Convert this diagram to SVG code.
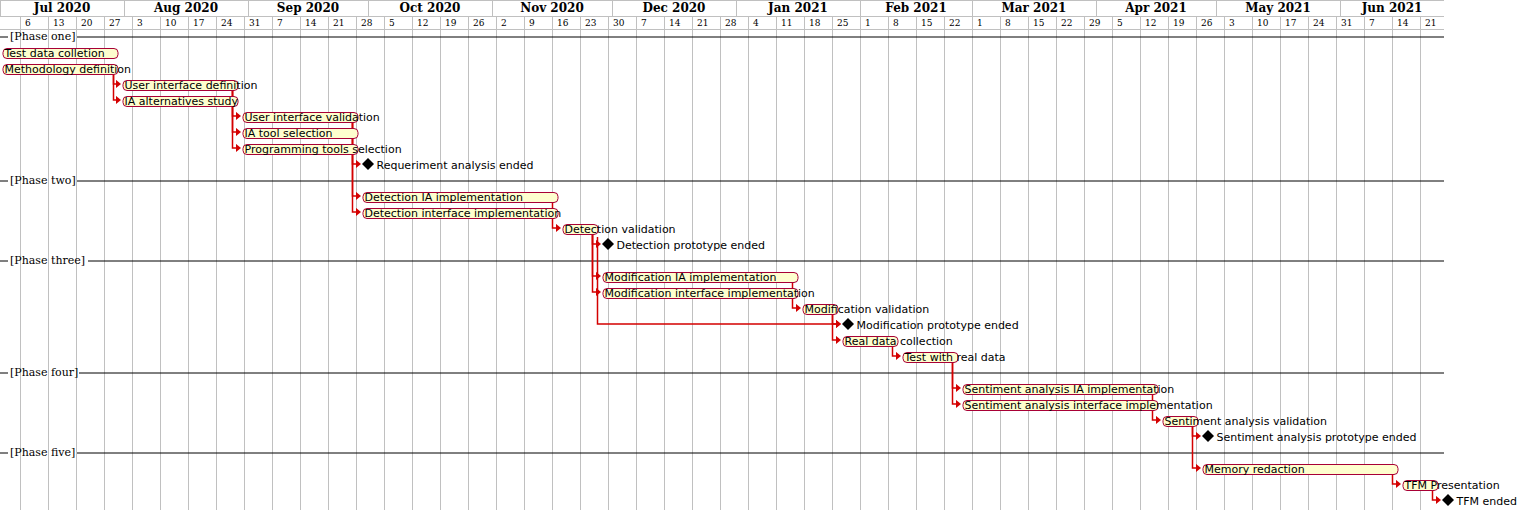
<svg xmlns="http://www.w3.org/2000/svg" width="1518" height="510" viewBox="0 0 1518 510">
<style>
.grid{stroke:#C0C0C0;stroke-width:1;fill:none}
.month{font-family:"DejaVu Serif",serif;font-weight:bold;font-size:12px;fill:#000;text-anchor:middle}
.week{font-family:"DejaVu Serif",serif;font-size:9px;fill:#000}
.pline{stroke:#000;stroke-width:1;fill:none}
.phase{font-family:"DejaVu Serif",serif;font-size:11px;fill:#000}
.bar{fill:#FEFECE;stroke:#A80036;stroke-width:1}
.lbl{font-family:"DejaVu Sans",sans-serif;font-size:11px;fill:#000}
.ms{fill:#000}
.dep{fill:none;stroke:#D40000;stroke-width:1.5;marker-end:url(#ah)}
</style>
<defs>
<marker id="ah" markerUnits="userSpaceOnUse" viewBox="0 0 5.5 9" refX="1" refY="4.5" markerWidth="5.5" markerHeight="9" orient="auto">
<path d="M0,0 L5.5,4.5 L0,9 Z" fill="#D40000"/>
</marker>
</defs>
<rect width="1518" height="510" fill="#fff"/>
<g id="grid">
<path class="grid" d="M0,0.5H1444M0,16.5H1444M0,29.5H1444"/>
<path class="grid" d="M0.5,0V16.5M124.5,0V16.5M248.5,0V16.5M368.5,0V16.5M492.5,0V16.5M612.5,0V16.5M736.5,0V16.5M860.5,0V16.5M972.5,0V16.5M1096.5,0V16.5M1216.5,0V16.5M1340.5,0V16.5"/>
<path class="grid" d="M20.5,16.5V510M48.5,16.5V510M76.5,16.5V510M104.5,16.5V510M132.5,16.5V510M160.5,16.5V510M188.5,16.5V510M216.5,16.5V510M244.5,16.5V510M272.5,16.5V510M300.5,16.5V510M328.5,16.5V510M356.5,16.5V510M384.5,16.5V510M412.5,16.5V510M440.5,16.5V510M468.5,16.5V510M496.5,16.5V510M524.5,16.5V510M552.5,16.5V510M580.5,16.5V510M608.5,16.5V510M636.5,16.5V510M664.5,16.5V510M692.5,16.5V510M720.5,16.5V510M748.5,16.5V510M776.5,16.5V510M804.5,16.5V510M832.5,16.5V510M860.5,16.5V510M888.5,16.5V510M916.5,16.5V510M944.5,16.5V510M972.5,16.5V510M1000.5,16.5V510M1028.5,16.5V510M1056.5,16.5V510M1084.5,16.5V510M1112.5,16.5V510M1140.5,16.5V510M1168.5,16.5V510M1196.5,16.5V510M1224.5,16.5V510M1252.5,16.5V510M1280.5,16.5V510M1308.5,16.5V510M1336.5,16.5V510M1364.5,16.5V510M1392.5,16.5V510M1420.5,16.5V510"/>
</g>
<g id="header">
<text class="month" x="62" y="11.5">Jul 2020</text>
<text class="month" x="186" y="11.5">Aug 2020</text>
<text class="month" x="308" y="11.5">Sep 2020</text>
<text class="month" x="430" y="11.5">Oct 2020</text>
<text class="month" x="552" y="11.5">Nov 2020</text>
<text class="month" x="674" y="11.5">Dec 2020</text>
<text class="month" x="798" y="11.5">Jan 2021</text>
<text class="month" x="916" y="11.5">Feb 2021</text>
<text class="month" x="1034" y="11.5">Mar 2021</text>
<text class="month" x="1156" y="11.5">Apr 2021</text>
<text class="month" x="1278" y="11.5">May 2021</text>
<text class="month" x="1392" y="11.5">Jun 2021</text>
<g class="week">
<text x="25" y="25.5">6</text><text x="53" y="25.5">13</text><text x="81" y="25.5">20</text><text x="109" y="25.5">27</text>
<text x="137" y="25.5">3</text><text x="165" y="25.5">10</text><text x="193" y="25.5">17</text><text x="221" y="25.5">24</text><text x="249" y="25.5">31</text>
<text x="277" y="25.5">7</text><text x="305" y="25.5">14</text><text x="333" y="25.5">21</text><text x="361" y="25.5">28</text>
<text x="389" y="25.5">5</text><text x="417" y="25.5">12</text><text x="445" y="25.5">19</text><text x="473" y="25.5">26</text>
<text x="501" y="25.5">2</text><text x="529" y="25.5">9</text><text x="557" y="25.5">16</text><text x="585" y="25.5">23</text><text x="613" y="25.5">30</text>
<text x="641" y="25.5">7</text><text x="669" y="25.5">14</text><text x="697" y="25.5">21</text><text x="725" y="25.5">28</text>
<text x="753" y="25.5">4</text><text x="781" y="25.5">11</text><text x="809" y="25.5">18</text><text x="837" y="25.5">25</text>
<text x="865" y="25.5">1</text><text x="893" y="25.5">8</text><text x="921" y="25.5">15</text><text x="949" y="25.5">22</text>
<text x="977" y="25.5">1</text><text x="1005" y="25.5">8</text><text x="1033" y="25.5">15</text><text x="1061" y="25.5">22</text><text x="1089" y="25.5">29</text>
<text x="1117" y="25.5">5</text><text x="1145" y="25.5">12</text><text x="1173" y="25.5">19</text><text x="1201" y="25.5">26</text>
<text x="1229" y="25.5">3</text><text x="1257" y="25.5">10</text><text x="1285" y="25.5">17</text><text x="1313" y="25.5">24</text><text x="1341" y="25.5">31</text>
<text x="1369" y="25.5">7</text><text x="1397" y="25.5">14</text><text x="1425" y="25.5">21</text>
</g>
</g>
<g id="phase-one"><path class="pline" d="M0,37H8M77,37H1444"/><text class="phase" x="10" y="39.5">[Phase one]</text></g>
<g id="phase-two"><path class="pline" d="M0,181H8M77,181H1444"/><text class="phase" x="10" y="183.5">[Phase two]</text></g>
<g id="phase-three"><path class="pline" d="M0,261H8M88,261H1444"/><text class="phase" x="10" y="263.5">[Phase three]</text></g>
<g id="phase-four"><path class="pline" d="M0,373H8M79,373H1444"/><text class="phase" x="10" y="375.5">[Phase four]</text></g>
<g id="phase-five"><path class="pline" d="M0,453H8M77,453H1444"/><text class="phase" x="10" y="455.5">[Phase five]</text></g>
<g id="connectors">
<path class="dep" d="M113.5,75V84H116.5"/>
<path class="dep" d="M113.5,75V100H116.5"/>
<path class="dep" d="M232.5,91V116H236.5"/>
<path class="dep" d="M232.5,91V132H236.5"/>
<path class="dep" d="M232.5,91V148H236.5"/>
<path class="dep" d="M352.5,123V164H356.5"/>
<path class="dep" d="M352.5,123V196H356.5"/>
<path class="dep" d="M352.5,123V212H356.5"/>
<path class="dep" d="M552.5,203V228H556.5"/>
<path class="dep" d="M592.5,235V244H596.5"/>
<path class="dep" d="M592.5,235V276H596.5"/>
<path class="dep" d="M592.5,235V292H596.5"/>
<path class="dep" d="M597.5,237V324H836.5"/>
<path class="dep" d="M792.5,283V308H796.5"/>
<path class="dep" d="M832.5,315V324H836.5"/>
<path class="dep" d="M832.5,315V340H836.5"/>
<path class="dep" d="M892.5,347V356H896.5"/>
<path class="dep" d="M952.5,363V388H956.5"/>
<path class="dep" d="M952.5,363V404H956.5"/>
<path class="dep" d="M1152.5,395V420H1156.5"/>
<path class="dep" d="M1192.5,427V436H1196.5"/>
<path class="dep" d="M1192.5,427V468H1196.5"/>
<path class="dep" d="M1392.5,475V484H1396.5"/>
<path class="dep" d="M1432.5,491V500H1436.5"/>
</g>
<g id="t-test-data"><rect class="bar" x="3" y="48.5" width="115" height="10" rx="4"/><text class="lbl" x="4.5" y="56.5">Test data colletion</text></g>
<g id="t-methodology"><rect class="bar" x="3" y="64.5" width="115" height="10" rx="4"/><text class="lbl" x="4.5" y="72.5">Methodology definition</text></g>
<g id="t-ui-def"><rect class="bar" x="123" y="80.5" width="115" height="10" rx="4"/><text class="lbl" x="124.5" y="88.5">User interface definition</text></g>
<g id="t-ia-alt"><rect class="bar" x="123" y="96.5" width="115" height="10" rx="4"/><text class="lbl" x="124.5" y="104.5">IA alternatives study</text></g>
<g id="t-ui-val"><rect class="bar" x="243" y="112.5" width="115" height="10" rx="4"/><text class="lbl" x="244.5" y="120.5">User interface validation</text></g>
<g id="t-ia-tool"><rect class="bar" x="243" y="128.5" width="115" height="10" rx="4"/><text class="lbl" x="244.5" y="136.5">IA tool selection</text></g>
<g id="t-prog-tools"><rect class="bar" x="243" y="144.5" width="115" height="10" rx="4"/><text class="lbl" x="244.5" y="152.5">Programming tools selection</text></g>
<g id="m-req"><path class="ms" d="M362,164L368,158L374,164L368,170Z"/><text class="lbl" x="376.5" y="168.5">Requeriment analysis ended</text></g>
<g id="t-det-ia"><rect class="bar" x="363" y="192.5" width="195" height="10" rx="4"/><text class="lbl" x="364.5" y="200.5">Detection IA implementation</text></g>
<g id="t-det-if"><rect class="bar" x="363" y="208.5" width="195" height="10" rx="4"/><text class="lbl" x="364.5" y="216.5">Detection interface implementation</text></g>
<g id="t-det-val"><rect class="bar" x="563" y="224.5" width="35" height="10" rx="4"/><text class="lbl" x="564.5" y="232.5">Detection validation</text></g>
<g id="m-det"><path class="ms" d="M602,244L608,238L614,244L608,250Z"/><text class="lbl" x="616.5" y="248.5">Detection prototype ended</text></g>
<g id="t-mod-ia"><rect class="bar" x="603" y="272.5" width="195" height="10" rx="4"/><text class="lbl" x="604.5" y="280.5">Modification IA implementation</text></g>
<g id="t-mod-if"><rect class="bar" x="603" y="288.5" width="195" height="10" rx="4"/><text class="lbl" x="604.5" y="296.5">Modification interface implementation</text></g>
<g id="t-mod-val"><rect class="bar" x="803" y="304.5" width="35" height="10" rx="4"/><text class="lbl" x="804.5" y="312.5">Modification validation</text></g>
<g id="m-mod"><path class="ms" d="M842,324L848,318L854,324L848,330Z"/><text class="lbl" x="856.5" y="328.5">Modification prototype ended</text></g>
<g id="t-real-data"><rect class="bar" x="843" y="336.5" width="55" height="10" rx="4"/><text class="lbl" x="844.5" y="344.5">Real data collection</text></g>
<g id="t-test-real"><rect class="bar" x="903" y="352.5" width="55" height="10" rx="4"/><text class="lbl" x="904.5" y="360.5">Test with real data</text></g>
<g id="t-sent-ia"><rect class="bar" x="963" y="384.5" width="195" height="10" rx="4"/><text class="lbl" x="964.5" y="392.5">Sentiment analysis IA implementation</text></g>
<g id="t-sent-if"><rect class="bar" x="963" y="400.5" width="195" height="10" rx="4"/><text class="lbl" x="964.5" y="408.5">Sentiment analysis interface implementation</text></g>
<g id="t-sent-val"><rect class="bar" x="1163" y="416.5" width="35" height="10" rx="4"/><text class="lbl" x="1164.5" y="424.5">Sentiment analysis validation</text></g>
<g id="m-sent"><path class="ms" d="M1202,436L1208,430L1214,436L1208,442Z"/><text class="lbl" x="1216.5" y="440.5">Sentiment analysis prototype ended</text></g>
<g id="t-memory"><rect class="bar" x="1203" y="464.5" width="195" height="10" rx="4"/><text class="lbl" x="1204.5" y="472.5">Memory redaction</text></g>
<g id="t-tfm-pres"><rect class="bar" x="1403" y="480.5" width="35" height="10" rx="4"/><text class="lbl" x="1404.5" y="488.5">TFM Presentation</text></g>
<g id="m-tfm"><path class="ms" d="M1442,500L1448,494L1454,500L1448,506Z"/><text class="lbl" x="1456.5" y="504.5">TFM ended</text></g>
</svg>
